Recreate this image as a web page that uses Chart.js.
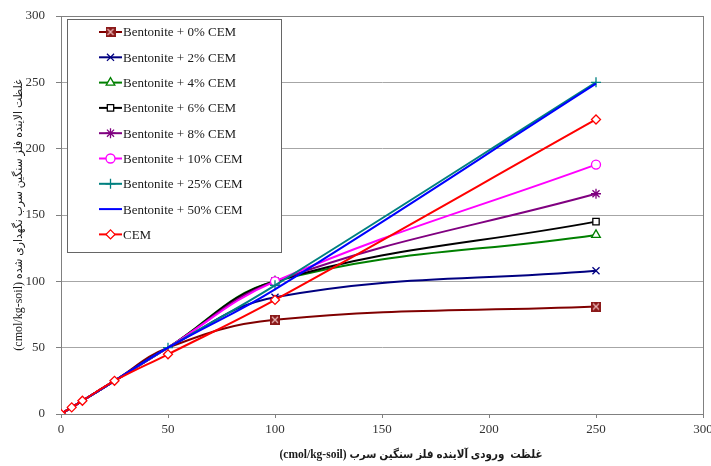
<!DOCTYPE html>
<html>
<head>
<meta charset="utf-8">
<script src="https://cdn.jsdelivr.net/npm/chart.js@4.4.1/dist/chart.umd.min.js"></script>
<style>
  html, body { margin: 0; padding: 0; background: #fff; }
  #wrap { width: 711px; height: 466px; }
</style>
</head>
<body>
<div id="wrap"><canvas id="chart" width="711" height="466"></canvas></div>
<script>
// Input concentration (x) and retained concentration (y), cmol/kg-soil
const inputConc = [0, 5, 10, 25, 50, 100, 250];

const bent0 = [0, 5, 10, 25, 50, 71, 81];
const bent2 = [0, 5, 10, 25, 50, 88, 108];
const bent4 = [0, 5, 10, 25, 50, 100, 135];
const bent6 = [0, 5, 10, 25, 50, 100, 145];
const bent8 = [0, 5, 10, 25, 50, 100, 166];
const bent10 = [0, 5, 10, 25, 50, 100, 188];
const bent25 = [0, 5, 10, 25, 50, 97, 250];
const bent50 = [0, 5, 10, 25, 50, 94, 249];
const cem = [0, 5, 10, 25, 45, 86, 222];

const seriesNames = [
  "Bentonite + 0% CEM",
  "Bentonite + 2% CEM",
  "Bentonite + 4% CEM",
  "Bentonite + 6% CEM",
  "Bentonite + 8% CEM",
  "Bentonite + 10% CEM",
  "Bentonite + 25% CEM",
  "Bentonite + 50% CEM",
  "CEM",
];

const xTicks = [0, 50, 100, 150, 200, 250, 300];
const yTicks = [0, 50, 100, 150, 200, 250, 300];

const xTitle = "(cmol/kg-soil) غلظت  ورودی آلاینده فلز سنگین سرب";
const yTitle = "(cmol/kg-soil) غلظت الاینده فلز سنگین سرب نگهداری شده";

const serif = "'Liberation Serif', 'Times New Roman', serif";
const titleFont = "'Liberation Serif', 'DejaVu Sans Condensed', 'DejaVu Sans', serif";

// square marker with an x inside (first series)
const xSquare = document.createElement("canvas");
xSquare.width = 10;
xSquare.height = 10;
(function () {
  const c = xSquare.getContext("2d");
  c.fillStyle = "#8b1a1a";
  c.fillRect(0, 0, 10, 10);
  c.strokeStyle = "#e9b5b5";
  c.lineWidth = 1.3;
  c.beginPath();
  c.moveTo(2, 2); c.lineTo(8, 8);
  c.moveTo(8, 2); c.lineTo(2, 8);
  c.stroke();
})();

function pts(ys) {
  return inputConc.map((x, i) => ({ x: x, y: ys[i] }));
}

// first = index of the first point that shows a marker
function series(i, ys, color, style, radius, fill, first) {
  return {
    label: seriesNames[i],
    data: pts(ys),
    borderColor: color,
    borderWidth: 2,
    tension: 0.4,
    pointStyle: style,
    pointRadius: inputConc.map((x, k) => (k >= first ? radius : 0)),
    legendRadius: radius,
    pointBackgroundColor: fill,
    pointBorderColor: color,
    pointBorderWidth: 1.3,
    order: 8 - i,
  };
}

const datasets = [
  series(0, bent0, "#800000", xSquare, 5, "#8b1a1a", 5),
  series(1, bent2, "#000080", "crossRot", 5, "#000080", 5),
  series(2, bent4, "#008000", "triangle", 5, "#ffffff", 5),
  series(3, bent6, "#000000", "rect", 4.5, "#ffffff", 5),
  series(4, bent8, "#800080", "star", 5, "#800080", 5),
  series(5, bent10, "#ff00ff", "circle", 4.5, "#ffffff", 5),
  series(6, bent25, "#008080", "cross", 5, "#008080", 4),
  series(7, bent50, "#0000ff", "circle", 0, "#0000ff", 7),
  series(8, cem, "#ff0000", "rectRot", 4.5, "#ffffff", 0),
];

// plot frame (top and right edges too)
const frame = {
  id: "frame",
  beforeDatasetsDraw(chart) {
    const a = chart.chartArea;
    const ctx = chart.ctx;
    ctx.save();
    ctx.strokeStyle = "#808080";
    ctx.lineWidth = 1;
    ctx.strokeRect(Math.round(a.left) + 0.5, Math.round(a.top) + 0.5,
      Math.round(a.right - a.left), Math.round(a.bottom - a.top));
    ctx.restore();
  },
};

// legend box inside the plot, top-left
const legendBox = {
  id: "legendBox",
  afterDraw(chart) {
    const ctx = chart.ctx;
    const a = chart.chartArea;
    const bx = a.left + 6, by = a.top + 3;
    ctx.save();
    ctx.fillStyle = "#ffffff";
    ctx.strokeStyle = "#666666";
    ctx.lineWidth = 1;
    ctx.fillRect(bx + 0.5, by + 0.5, 214, 233);
    ctx.strokeRect(bx + 0.5, by + 0.5, 214, 233);
    chart.data.datasets.forEach(function (ds, i) {
      const y = by + 13 + i * 25.3;
      const x0 = bx + 32, x1 = bx + 55;
      ctx.strokeStyle = ds.borderColor;
      ctx.lineWidth = 2;
      ctx.beginPath();
      ctx.moveTo(x0, y);
      ctx.lineTo(x1, y);
      ctx.stroke();
      if (ds.legendRadius > 0) {
        ctx.fillStyle = ds.pointBackgroundColor;
        ctx.strokeStyle = ds.pointBorderColor;
        ctx.lineWidth = ds.pointBorderWidth;
        Chart.helpers.drawPoint(ctx, {
          pointStyle: ds.pointStyle,
          radius: ds.legendRadius,
          rotation: 0,
          borderWidth: ds.pointBorderWidth,
        }, (x0 + x1) / 2, y);
      }
      ctx.fillStyle = "#1a1a1a";
      ctx.font = "13px " + serif;
      ctx.textAlign = "left";
      ctx.textBaseline = "middle";
      ctx.fillText(ds.label, x1 + 1, y + 1);
    });
    ctx.restore();
  },
};

// x axis title, sits a little right of centre as in the original
const xAxisTitle = {
  id: "xAxisTitle",
  afterDraw(chart) {
    const ctx = chart.ctx;
    ctx.save();
    ctx.fillStyle = "#1a1a1a";
    ctx.font = "bold 11.5px " + titleFont;
    ctx.textAlign = "center";
    ctx.textBaseline = "middle";
    ctx.fillText(xTitle, 411, 455);
    ctx.restore();
  },
};

const chart = new Chart(document.getElementById("chart"), {
  type: "line",
  data: { datasets: datasets },
  plugins: [frame, legendBox, xAxisTitle],
  options: {
    responsive: false,
    animation: false,
    layout: { padding: { top: 16, right: 8, left: 0, bottom: 0 } },
    plugins: {
      legend: { display: false },
      tooltip: { enabled: false },
    },
    scales: {
      x: {
        type: "linear",
        min: 0,
        max: 300,
        afterBuildTicks: function (scale) {
          scale.ticks = xTicks.map((v) => ({ value: v }));
        },
        afterFit: function (scale) {
          scale.height = 52;
          scale.paddingLeft = 0;
          scale.paddingRight = 0;
        },
        grid: {
          drawOnChartArea: false,
          drawTicks: true,
          tickLength: 4,
          tickColor: "#808080",
        },
        border: { display: true, color: "#808080" },
        ticks: {
          padding: 4,
          color: "#333333",
          font: { family: serif, size: 13 },
          maxRotation: 0,
        },
      },
      y: {
        type: "linear",
        min: 0,
        max: 300,
        afterBuildTicks: function (scale) {
          scale.ticks = yTicks.map((v) => ({ value: v }));
        },
        afterFit: function (scale) {
          scale.width = 61;
          scale.paddingTop = 0;
          scale.paddingBottom = 0;
        },
        grid: {
          color: "#a6a6a6",
          borderDash: [2, 2],
          tickLength: 5,
          tickColor: "#808080",
          tickBorderDash: [],
        },
        border: { display: true, color: "#808080" },
        ticks: {
          padding: 11,
          color: "#333333",
          font: { family: serif, size: 13 },
        },
        title: {
          display: true,
          text: yTitle,
          color: "#1a1a1a",
          font: { family: titleFont, size: 12 },
          padding: { top: 12, bottom: 0 },
        },
      },
    },
  },
});
</script>
</body>
</html>
